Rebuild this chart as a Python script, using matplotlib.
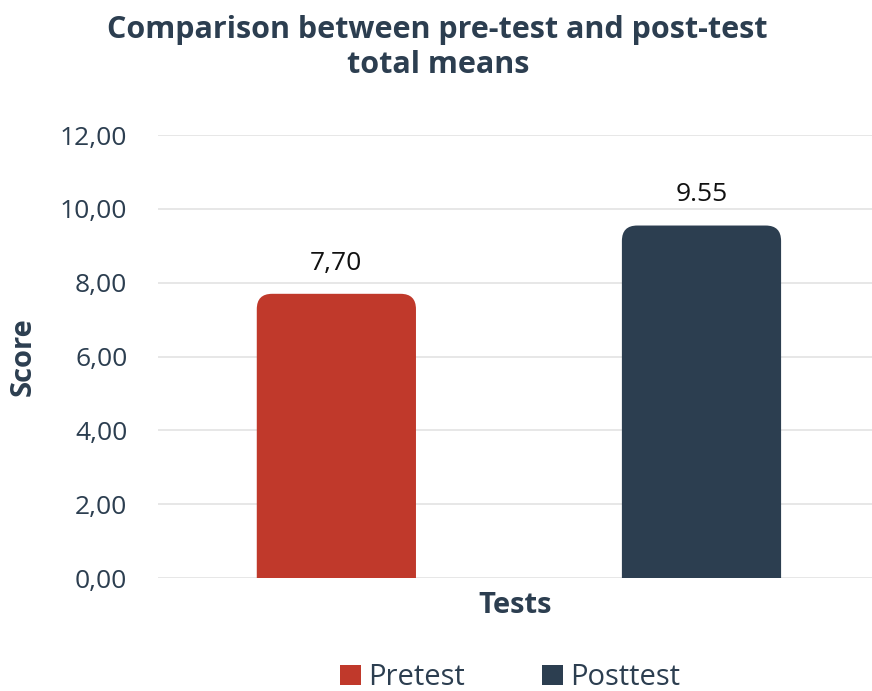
import matplotlib
matplotlib.use("Agg")
import matplotlib.pyplot as plt
from matplotlib.patches import FancyBboxPatch, Patch

# data
categories = ["Pretest", "Posttest"]
means = [7.70, 9.55]
value_labels = ["7,70", "9.55"]
yticks = [0, 2, 4, 6, 8, 10, 12]
ytick_labels = ["0,00", "2,00", "4,00", "6,00", "8,00", "10,00", "12,00"]
colors = ["#c0392b", "#2c3e50"]

text_color = "#2c3e50"
plt.rcParams["font.family"] = ["Open Sans", "DejaVu Sans"]

fig = plt.figure(figsize=(8.72, 6.91), dpi=100)
ax = fig.add_axes([0.181, 0.1635, 0.819, 0.641])

x = list(range(len(categories)))
bars = ax.bar(x, means, width=0.436, color=colors)

ax.set_xlim(-0.489, 1.467)
ax.set_ylim(0, 12)

# rounded tops: swap each bar for a rounded box that starts below zero
for rect, col in zip(bars, colors):
    bx, bw, bh = rect.get_x(), rect.get_width(), rect.get_height()
    rect.remove()
    rounded = FancyBboxPatch((bx, -1), bw, bh + 1,
                             boxstyle="round,pad=0,rounding_size=0.042",
                             mutation_aspect=9.9, facecolor=col,
                             edgecolor="none", zorder=2)
    ax.add_patch(rounded)

for xi, v, lab in zip(x, means, value_labels):
    ax.annotate(lab, (xi, v), xytext=(0, 13), textcoords="offset points",
                ha="center", va="bottom", fontsize=19, color="#111111")

ax.set_yticks(yticks)
ax.set_yticklabels(ytick_labels, fontsize=19, color=text_color)
ax.set_xticks([])
ax.tick_params(axis="y", length=0, pad=22)
ax.grid(axis="y", color="#e3e3e3", linewidth=1.2, zorder=0)
ax.set_axisbelow(True)
for s in ax.spines.values():
    s.set_visible(False)

ax.set_ylabel("Score", fontsize=21, fontweight="bold", color=text_color, labelpad=16)
ax.set_xlabel("Tests", fontsize=21, fontweight="bold", color=text_color, labelpad=9)

fig.text(0.502, 0.978, "Comparison between pre-test and post-test\ntotal means",
         ha="center", va="top", fontsize=22, fontweight="bold",
         color=text_color, linespacing=1.22)

handles = [Patch(facecolor=c, edgecolor="none") for c in colors]
fig.legend(handles, categories, loc="lower center", bbox_to_anchor=(0.585, -0.04),
           ncol=2, frameon=False, fontsize=21, handlelength=0.7, handleheight=0.7,
           handletextpad=0.25, columnspacing=2.65, labelcolor=text_color)

fig.savefig("out.png", dpi=100, facecolor="white")
